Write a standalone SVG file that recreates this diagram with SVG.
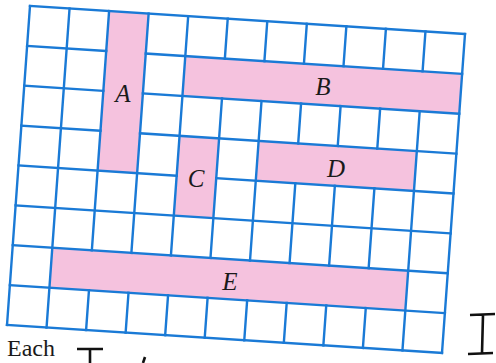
<svg xmlns="http://www.w3.org/2000/svg" width="496" height="363" viewBox="0 0 496 363">
<style>
.pink{fill:#f5c2de;stroke:none}
.grid{fill:none;stroke:#1a7ad6;stroke-width:2.4;vector-effect:non-scaling-stroke;stroke-linecap:square}
.lbl{font-family:"Liberation Serif","Times New Roman",serif;font-style:italic;font-size:25px;fill:#1a1a1a;text-anchor:middle}
.ink{fill:none;stroke:#111;stroke-width:2.6}
</style>
<rect width="496" height="363" fill="#ffffff"/>
<g id="board" transform="matrix(39.545 2.545 -2.875 39.875 30 6)">
<g id="A"><rect class="pink" x="2" y="0" width="1" height="4"/></g>
<g id="B"><rect class="pink" x="4" y="1" width="7" height="1"/></g>
<g id="C"><rect class="pink" x="4" y="3" width="1" height="2"/></g>
<g id="D"><rect class="pink" x="6" y="3" width="4" height="1"/></g>
<g id="E"><rect class="pink" x="1" y="6" width="9" height="1"/></g>
<g id="gridlines">
<path class="grid" d="M0 0H11 M0 1H2 M3 1H11 M0 2H2 M3 2H11 M0 3H2 M3 3H11 M0 4H4 M5 4H11 M0 5H11 M0 6H11 M0 7H11 M0 8H11"/>
<path class="grid" d="M0 0V8 M1 0V8 M2 0V6 M2 7V8 M3 0V6 M3 7V8 M4 0V6 M4 7V8 M5 0V1 M5 2V6 M5 7V8 M6 0V1 M6 2V6 M6 7V8 M7 0V1 M7 2V3 M7 4V6 M7 7V8 M8 0V1 M8 2V3 M8 4V6 M8 7V8 M9 0V1 M9 2V3 M9 4V6 M9 7V8 M10 0V1 M10 2V8 M11 0V8"/>
</g>
</g>
<g id="labels">
<text class="lbl" x="123" y="102">A</text>
<text class="lbl" x="323" y="95">B</text>
<text class="lbl" x="196" y="187">C</text>
<text class="lbl" x="336" y="177">D</text>
<text class="lbl" x="230" y="290">E</text>
</g>
<g id="caption">
<text x="7" y="356" style="font-family:'Liberation Serif','Times New Roman',serif;font-size:24px;fill:#1a1a1a">Each</text>
<path class="ink" d="M77 349H103 M90 349V364"/>
<path class="ink" stroke-width="1.5" d="M143 363L145 357"/>
<path class="ink" d="M470 315L495 314 M483 315L482 353 M468 354L493 353"/>
</g>
</svg>
